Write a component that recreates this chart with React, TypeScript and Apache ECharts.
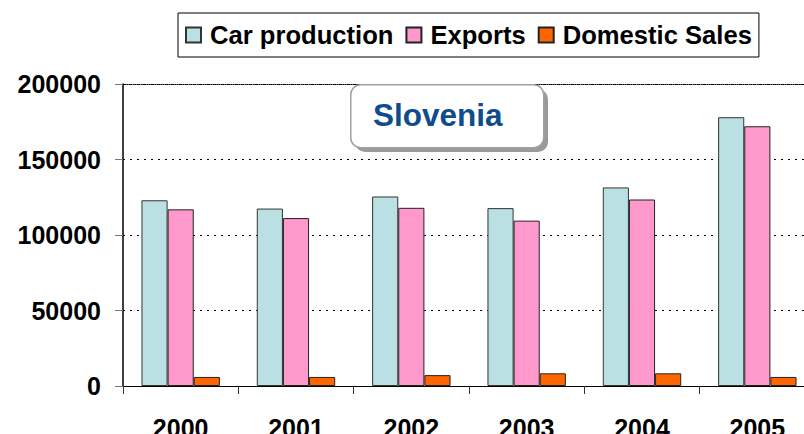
import React, { useEffect, useRef } from "react";
import * as echarts from "echarts";

const categories = ["2000", "2001", "2002", "2003", "2004", "2005"];
const carProduction = [123000, 117500, 125500, 117800, 131500, 178000];
const exportsData = [117000, 111200, 118000, 109500, 123500, 172000];
const domesticSales = [6000, 6000, 7200, 8400, 8400, 6000];
const seriesNames = ["Car production", "Exports", "Domestic Sales"];
const chartTitle = "Slovenia";

const FONT = "'Liberation Sans', Arial, Helvetica, sans-serif";

export default function App() {
  const ref = useRef<HTMLDivElement>(null);

  useEffect(() => {
    if (!ref.current) return;
    const chart = echarts.init(ref.current, undefined, { renderer: "svg" });
    const barBase = {
      type: "bar" as const,
      barGap: "0%",
      barCategoryGap: "32%",
      xAxisIndex: 0,
      yAxisIndex: 0,
    };
    chart.setOption({
      animation: false,
      backgroundColor: "#ffffff",
      textStyle: { fontFamily: FONT },
      legend: {
        left: 178,
        top: 13,
        padding: [9, 7, 9, 7],
        borderColor: "#000",
        borderWidth: 1,
        itemWidth: 15,
        itemHeight: 15,
        itemGap: 12,
        icon: "rect",
        textStyle: {
          fontFamily: FONT,
          fontSize: 25.6,
          fontWeight: "bold",
          color: "#000",
          padding: [0, 0, 0, 4],
        },
        data: seriesNames,
      },
      grid: {
        left: 123,
        top: 84,
        width: 692,
        height: 302,
        containLabel: false,
        outerBoundsMode: "none",
      },
      xAxis: [
        {
          type: "category",
          data: categories,
          position: "bottom",
          axisLine: { lineStyle: { color: "#000", width: 1 } },
          axisTick: { show: true, length: 8, lineStyle: { color: "#333" } },
          axisLabel: {
            fontFamily: FONT,
            fontSize: 25,
            fontWeight: "bold",
            color: "#000",
            margin: 29,
          },
        },
        {
          type: "category",
          data: categories,
          position: "top",
          axisLine: { lineStyle: { color: "#000", width: 1, type: [1, 1] } },
          axisTick: { show: false },
          axisLabel: { show: false },
        },
      ],
      yAxis: {
        type: "value",
        min: 0,
        max: 200000,
        interval: 50000,
        axisLine: { show: true, lineStyle: { color: "#000", width: 1.5 } },
        axisTick: { show: true, length: 8, lineStyle: { color: "#777" } },
        axisLabel: {
          fontFamily: FONT,
          fontSize: 25,
          fontWeight: "bold",
          color: "#000",
          margin: 22,
          formatter: (v: number) => String(v),
        },
        splitLine: {
          show: true,
          lineStyle: { color: "#000", width: 1, type: [2, 5] },
        },
      },
      series: [
        {
          ...barBase,
          name: seriesNames[0],
          data: carProduction,
          itemStyle: { color: "#BBE0E3", borderColor: "#333", borderWidth: 1 },
        },
        {
          ...barBase,
          name: seriesNames[1],
          data: exportsData,
          itemStyle: { color: "#FF99CC", borderColor: "#222", borderWidth: 1 },
        },
        {
          ...barBase,
          name: seriesNames[2],
          data: domesticSales,
          itemStyle: { color: "#FF6600", borderColor: "#222", borderWidth: 1 },
        },
      ],
      graphic: [
        {
          type: "rect",
          left: 355,
          top: 89,
          shape: { width: 193, height: 63, r: 10 },
          style: { fill: "#9a9a9a" },
          z: 10,
        },
        {
          type: "rect",
          left: 350,
          top: 84,
          shape: { width: 193, height: 63, r: 10 },
          style: { fill: "#ffffff", stroke: "#a0a0a0", lineWidth: 1.5 },
          z: 11,
        },
        {
          type: "text",
          left: 373,
          top: 99,
          style: {
            text: chartTitle,
            fontFamily: FONT,
            fontSize: 31.5,
            fontWeight: "bold",
            fill: "#0F4C8C",
          },
          z: 12,
        },
      ],
    });
    return () => chart.dispose();
  }, []);

  return (
    <div
      ref={ref}
      style={{ position: "fixed", left: 0, top: 0, width: 804, height: 434 }}
    />
  );
}
